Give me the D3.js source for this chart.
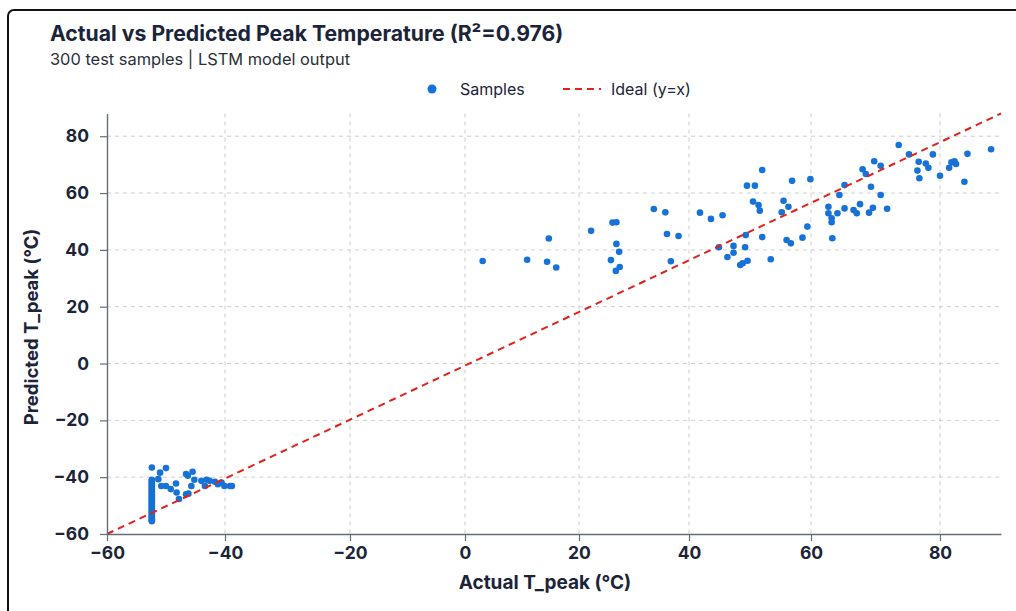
<!DOCTYPE html>
<html>
<head>
<meta charset="utf-8">
<script src="https://cdn.jsdelivr.net/npm/d3@7"></script>
<style>
  body { margin: 0; background: #fff; }
  text { font-family: Inter, Roboto, "Liberation Sans", sans-serif; }
</style>
</head>
<body>
<div id="chart"></div>
<script>
const title = "Actual vs Predicted Peak Temperature (R²=0.976)";
const subtitle = "300 test samples | LSTM model output";
const xTicks = [-60, -40, -20, 0, 20, 40, 60, 80];
const yTicks = [-60, -40, -20, 0, 20, 40, 60, 80];
const axisMax = 88;

// samples whose actual value sits at the sensor floor
const floorActual = -52.4;
const floorPredicted = [-36.6, -40.9, -41.3, -41.9, -42.2, -42.8, -43.1, -43.7, -44.0, -44.6, -45.0,
  -45.5, -45.9, -46.4, -46.8, -47.3, -47.6, -48.2, -48.5, -49.1, -49.4, -50.0, -50.3, -50.9,
  -51.2, -51.8, -52.1, -52.7, -53.0, -53.6, -53.9, -54.4, -54.8, -55.2, -55.5];

const coldActual = [-51.0, -50.0, -51.3, -50.8, -50.0, -49.2, -48.3, -48.2, -47.8, -46.6, -46.6,
  -45.5, -45.7, -45.2, -44.0, -43.4, -43.1, -42.6, -41.7, -41.2, -40.6, -40.1, -39.2, -38.9,
  -46.3, -46.2];
const coldPredicted = [-38.4, -36.8, -40.7, -43.1, -43.1, -44.2, -42.2, -45.4, -47.7, -38.9, -46.0,
  -38.1, -43.1, -40.9, -41.3, -43.1, -40.9, -41.3, -41.6, -42.5, -41.9, -43.1, -43.1, -43.1,
  -39.5, -45.8];

const warmActual = [3.1, 10.9, 14.7, 14.4, 16.0, 22.2, 26.1, 26.8, 26.8, 27.3, 25.8, 27.4, 26.7,
  33.6, 35.7, 36.0, 38.1, 36.7, 41.8, 43.6, 45.5, 52.0, 49.5, 50.8, 56.9, 59.9, 50.5, 51.4, 51.6,
  55.5, 56.3, 52.0, 49.3, 44.9, 47.3, 47.3, 49.2, 46.3, 48.4, 48.8, 49.6, 53.4, 56.0, 56.7, 58.6,
  59.4, 55.2, 62.7, 62.7, 63.2, 63.2, 64.1, 64.4, 65.2, 65.2, 63.3, 66.6, 67.1, 67.6, 68.0, 68.5,
  69.0, 69.3, 69.6, 70.8, 71.8, 69.8, 70.8, 73.6, 75.2, 76.7, 76.5, 76.8, 77.8, 78.2, 78.9, 80.0,
  81.2, 81.5, 81.9, 82.1, 83.2, 83.6, 86.7];
const warmPredicted = [36.1, 36.5, 44.0, 35.8, 33.8, 46.7, 49.6, 49.7, 42.1, 39.3, 36.4, 34.0, 32.6,
  54.4, 53.2, 45.6, 44.9, 36.0, 53.1, 50.9, 52.2, 68.1, 62.6, 62.6, 64.3, 64.9, 57.0, 55.8, 53.8,
  57.3, 55.2, 44.5, 45.2, 40.9, 41.4, 39.0, 40.9, 37.5, 34.7, 35.3, 36.2, 36.7, 43.5, 42.3, 44.3,
  48.2, 53.2, 55.2, 52.9, 51.1, 49.7, 52.9, 59.3, 54.6, 62.8, 44.1, 54.0, 52.9, 56.1, 68.4, 66.7,
  53.1, 62.2, 54.8, 59.3, 54.5, 71.2, 69.6, 76.9, 73.6, 71.0, 67.9, 65.2, 70.4, 68.9, 73.6, 66.1,
  68.9, 70.8, 71.2, 70.2, 64.0, 73.8, 75.4];

const samples = [
  ...floorPredicted.map(p => ({ actual: floorActual, predicted: p })),
  ...coldActual.map((a, i) => ({ actual: a, predicted: coldPredicted[i] })),
  ...warmActual.map((a, i) => ({ actual: a, predicted: warmPredicted[i] }))
];

const width = 1016, height = 611;
const svg = d3.select("#chart").append("svg").attr("width", width).attr("height", height);

svg.append("rect").attr("x", 8).attr("y", 10).attr("width", 1030).attr("height", 640)
  .attr("rx", 6).attr("fill", "#fff").attr("stroke", "#111").attr("stroke-width", 2);

// the source picture is slightly stretched along x, so the x scale is polylinear
const x = d3.scaleLinear()
  .domain([-60, -40, -20, 0, 20, 40, 60, 80, axisMax])
  .range([107, 225, 350, 465, 579, 689, 811, 940, 1001]);
const y = d3.scaleLinear().domain([-60, axisMax]).range([534, 113.5]);

const navy = "#1b2438";

svg.append("text").attr("x", 50).attr("y", 41).attr("font-size", 21.2).attr("font-weight", 700)
  .attr("fill", navy).text(title);
svg.append("text").attr("x", 50).attr("y", 64.5).attr("font-size", 16.4)
  .attr("fill", "#2a2f3a").text(subtitle);

// grid
const grid = svg.append("g").attr("stroke", "#cfcfcf").attr("stroke-dasharray", "4,4").attr("stroke-width", 1);
grid.selectAll(".gx").data(xTicks.filter(d => d > -60)).enter().append("line")
  .attr("x1", d => x(d)).attr("x2", d => x(d)).attr("y1", y(axisMax)).attr("y2", y(-60));
grid.selectAll(".gy").data(yTicks.filter(d => d > -60)).enter().append("line")
  .attr("x1", x(-60)).attr("x2", x(axisMax)).attr("y1", d => y(d)).attr("y2", d => y(d));

// points
svg.append("g").selectAll("circle").data(samples).enter().append("circle")
  .attr("cx", d => x(d.actual)).attr("cy", d => y(d.predicted)).attr("r", 3.3)
  .attr("fill", "#1672d6");

// ideal line
svg.append("line")
  .attr("x1", x(-60)).attr("y1", y(-60)).attr("x2", x(axisMax)).attr("y2", y(axisMax))
  .attr("stroke", "#e3201b").attr("stroke-width", 2).attr("stroke-dasharray", "7,5");

// axes
const xAxis = svg.append("g").attr("transform", `translate(0,${y(-60)})`)
  .call(d3.axisBottom(x).tickValues(xTicks).tickSize(7).tickSizeOuter(0).tickPadding(6));
const yAxis = svg.append("g").attr("transform", `translate(${x(-60)},0)`)
  .call(d3.axisLeft(y).tickValues(yTicks).tickSize(7).tickSizeOuter(0).tickPadding(11));
[xAxis, yAxis].forEach(g => {
  g.select(".domain").attr("stroke", "#666d7a").attr("stroke-width", 1.4);
  g.selectAll(".tick line").attr("stroke", "#666d7a").attr("stroke-width", 1.2);
  g.selectAll(".tick text").attr("font-family", "Inter, Roboto, sans-serif").attr("font-size", 17.5)
    .attr("font-weight", 700).attr("fill", navy);
});

svg.append("text").attr("x", 545).attr("y", 589).attr("text-anchor", "middle")
  .attr("font-size", 19).attr("font-weight", 700).attr("fill", navy).text("Actual T_peak (°C)");
svg.append("text").attr("transform", "translate(38,327) rotate(-90)").attr("text-anchor", "middle")
  .attr("font-size", 18.5).attr("font-weight", 700).attr("fill", navy).text("Predicted T_peak (°C)");

// legend
const legend = svg.append("g");
legend.append("circle").attr("cx", 432).attr("cy", 89).attr("r", 4.5).attr("fill", "#1672d6");
legend.append("text").attr("x", 460).attr("y", 94.5).attr("font-size", 16).attr("fill", navy).text("Samples");
legend.append("line").attr("x1", 563).attr("x2", 601).attr("y1", 89).attr("y2", 89)
  .attr("stroke", "#e3201b").attr("stroke-width", 2).attr("stroke-dasharray", "7,5");
legend.append("text").attr("x", 611).attr("y", 94.5).attr("font-size", 16).attr("fill", navy).text("Ideal (y=x)");
</script>
</body>
</html>
